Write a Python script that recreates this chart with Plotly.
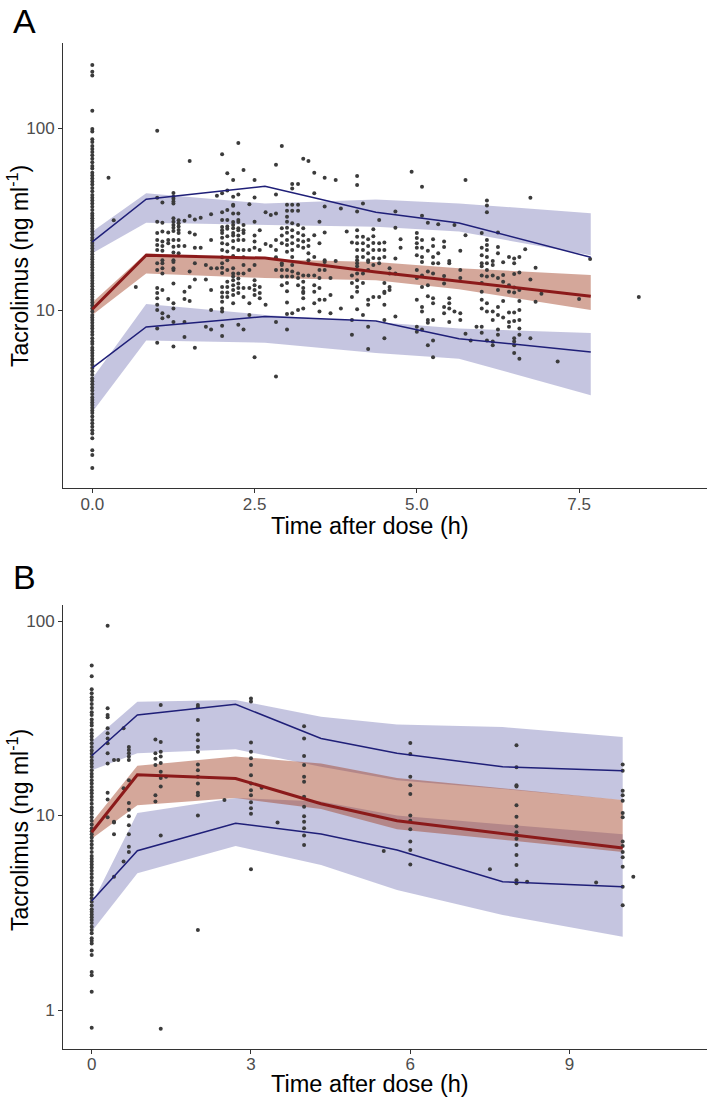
import plotly.graph_objects as go

FONT = "Liberation Sans, Arial, sans-serif"
W, H = 709, 1097

# ---------------- Panel A : observed data (time h, concentrations ng/ml) ----------------
a_obs = [
    (0.0, [223, 205, 195, 125, 99, 96, 87, 84, 80, 77, 74, 71, 68, 65, 62, 60, 57, 55, 53, 51, 49, 47,
           45, 43, 41.5, 40, 38.5, 37, 35.5, 34, 33, 32, 31, 30, 29, 28, 27, 26, 25, 24.2, 23.4, 22.6,
           21.8, 21, 20.3, 19.6, 19, 18.4, 17.8, 17.2, 16.6, 16, 15.5, 15, 14.5, 14, 13.5, 13, 12.6,
           12.2, 11.8, 11.4, 11, 10.6, 10.2, 9.8, 9.4, 9.1, 8.8, 8.5, 8.2, 7.9, 7.6, 7.3, 7.0, 6.7,
           6.5, 6.2, 6.0, 5.8, 5.6, 5.4, 5.2, 5.0, 4.8, 4.6, 4.4, 4.2, 4.05, 3.9, 3.75, 3.6, 3.45,
           3.3, 3.2, 3.1, 3.0, 2.9, 2.8, 2.71, 2.59, 2.48, 2.38, 2.28, 2.18, 2.09, 1.97, 1.69, 1.59, 1.35]),
    (0.25, [53.5]),
    (0.33, [31.2]),
    (0.67, [13.4]),
    (1.0, [97, 41.5, 30.6, 26.5, 24.3, 22.8, 21.4, 18.1, 16.6, 13.2, 12.4, 11.6, 10.7, 10, 7.9, 6.6]),
    (1.08, [39, 30.2, 27, 23.8, 22.5, 21.2, 18.8, 18.1, 17, 15.9, 12.9, 9.6, 9.0]),
    (1.17, [26.7, 24.3, 23.3, 11.5, 9.2]),
    (1.25, [44, 42, 41, 39.5, 38.5, 32.0, 30.6, 29.4, 28.4, 27.2, 24.3, 22.3, 20.7, 18.8, 17, 18.4,
            16.6, 14, 10.9, 10.2, 8.6, 6.3]),
    (1.33, [31.2, 30.0, 28.8, 27.6, 26.5, 24.3, 22.5, 20.5]),
    (1.42, [31, 22.5, 12.6, 11.5, 8.6, 7.1]),
    (1.5, [66, 32.9, 26.7, 16.3, 13.4, 11.2]),
    (1.58, [31.5, 26, 22.0, 18.1, 14.7, 6.2]),
    (1.67, [32.2, 22]),
    (1.75, [17.7, 14.7, 8.1]),
    (1.83, [33.7, 24.3, 17, 12.9, 10, 7.8]),
    (1.92, [42.6, 17]),
    (2.0, [72, 43.9, 34.5, 31.3, 28.6, 26.5, 27.5, 25, 23.3, 21.4, 19.5, 18.1, 17.1, 16, 13.4, 12.5,
           11.8, 11.1, 10.2, 9.8, 8.2, 7.2]),
    (2.08, [56.5, 45.4, 35.5, 31.3, 28.8, 28, 25.5, 23, 21, 18.8, 16.6, 14.3, 13.4, 12.5, 11.8]),
    (2.17, [52, 42, 37.5, 38, 34, 30.5, 28.2, 25.7, 29.4, 26.5, 24, 22, 19.8, 17, 15.9, 15.3, 14.6,
            13.7, 12.9, 12.1, 10.9]),
    (2.25, [83, 43.2, 34, 30.5, 28.2, 25.7, 31.3, 27.5, 24.3, 21.4, 15.9, 14.9, 14, 13.2, 12.4, 8.3]),
    (2.33, [59, 29.4, 26.5, 27.5, 24.3, 21.4, 19.5, 17.7, 15.9, 13.2, 11.8, 7.8]),
    (2.42, [38.2, 21.4, 16.6, 13.2, 10.9, 9.4]),
    (2.5, [52, 41.6, 30.6, 25.7, 23.8, 22, 17.7, 14.6, 13.7, 12.9, 12.1, 5.5]),
    (2.58, [27.5, 21.4, 13.4, 12.4, 11.6]),
    (2.67, [34.5, 23.1, 10.7]),
    (2.75, [33.3, 22.5]),
    (2.83, [63, 43.2, 34, 24.3, 21.4, 19.5, 16.6, 8.6, 4.3]),
    (2.92, [80, 28.2, 25.7, 23.3, 17.7, 18.1, 16.6, 15.3, 13.7]),
    (3.0, [37.9, 35.2, 32.6, 30.6, 28.4, 26.6, 24.3, 22.8, 20.9, 16.6, 15.3, 14.1, 12.7, 11.0, 9.5, 7.8]),
    (3.08, [49.3, 46.7, 37.9, 35.2, 30, 27.5, 25.3, 23.3, 21.4, 19.6, 17.7, 16.3, 15.3, 9.6]),
    (3.17, [49.3, 37.9, 35.2, 29.4, 26.5, 24.3, 22.5, 15.9, 15, 13.7, 10]),
    (3.25, [68, 28.2, 25.8, 23.8, 22, 15.5, 14.3, 13.2, 12.4, 12.6, 11.6, 10.2]),
    (3.33, [66, 24.3, 22.5, 20.5, 18.8, 15.5]),
    (3.42, [57, 43.9, 25.8, 19.6, 15.5, 13.7, 12.6, 10.9]),
    (3.5, [30.6, 23.3, 16.6, 15, 13.2, 11.4, 9.8]),
    (3.58, [53.5, 37.1, 26.7, 18.8, 18.4, 16.6, 11.4]),
    (3.67, [15, 12.1, 9.6]),
    (3.75, [52, 18.6]),
    (3.83, [36.2, 10.2]),
    (3.92, [27]),
    (4.0, [23.5, 15.5, 14.1, 11.8, 8.8, 7.3]),
    (4.08, [54.6, 48.8, 34.8, 27.5, 25.3, 23.3, 21.4, 19.6, 18.1, 18.8, 17.4, 15.9, 14.6, 13.4, 12.6, 10.1]),
    (4.17, [38.6, 25.3, 23.3, 21.4, 19.6, 15.9, 14.1, 9.4]),
    (4.25, [24.5, 22.5, 20.5, 18.8, 18.4, 16.6, 11.4, 10.7, 8.1, 6.1]),
    (4.33, [27.8, 25.5, 23.4, 21.4, 19.3, 17.7, 11.8]),
    (4.42, [31.3, 23.3, 21.4, 19.2, 18.1, 11.8]),
    (4.5, [23.5, 21.4, 19.6, 14.1, 12.6, 12.4, 10.7, 8.8, 7]),
    (4.58, [17, 15.9, 13.4, 12.9]),
    (4.67, [34.8, 28.4, 19.2, 15.9, 9.2]),
    (4.75, [24.5, 22]),
    (4.92, [57.6]),
    (5.0, [26.5, 24.9, 23.3, 22, 20, 16.6, 15, 11.4, 8.1, 7.6]),
    (5.08, [47.7, 33, 24.3, 22, 19.6, 18.4, 15.5, 13.4, 10.4, 9.8, 7.8]),
    (5.17, [30.2, 21.2, 16.3, 13.7, 11.9, 8.8, 8.5, 6.4]),
    (5.25, [24.5, 22.5, 19.6, 18.1, 15.9, 11.6, 10.9, 8.8, 6.8, 5.5]),
    (5.33, [29.6, 20.5, 18.1]),
    (5.42, [23.8, 22.2, 15.4, 14, 10.4, 9.6]),
    (5.5, [18.6, 18.1, 11.6, 10.9, 10.2, 8.6]),
    (5.58, [29.4, 9.8]),
    (5.67, [21.2, 16.6, 15, 9.6, 8.8]),
    (5.75, [52, 25.8, 7.4]),
    (5.83, [6.8]),
    (5.92, [8.1]),
    (6.0, [26.5, 22, 20, 18.1, 17.4, 15.5, 14.1, 12.6, 11.4, 10.2, 8.1, 7.5]),
    (6.08, [40, 37.6, 34.5, 24.3, 22.8, 21.4, 19.6, 18.1, 16.6, 15.3, 10.9, 9.8, 6.8]),
    (6.17, [18.6, 17.7, 15.5, 9.8, 8.8, 6.7, 6.4]),
    (6.25, [26.7, 22.2, 20.5, 15, 12.9, 10.4, 9.4, 7.8, 7.3]),
    (6.33, [18.3, 15.6, 14.3, 11.2, 9.1]),
    (6.42, [19.6, 13.7, 12.6, 9.7, 8.6, 8.1]),
    (6.5, [19.2, 18.1, 15.8, 13.3, 12.5, 9.7, 8.7, 7.0, 6.7, 6.4, 5.8]),
    (6.58, [19.6, 16.1, 12.9, 11.2, 10, 8.8, 7.9, 7.3, 5.4]),
    (6.67, [21.6]),
    (6.75, [41.5, 14.7, 7.0]),
    (6.83, [17.1, 11.1]),
    (6.92, [12.3]),
    (7.17, [5.2]),
    (7.5, [11.5]),
    (7.67, [19.1]),
    (8.42, [11.8]),
]

# Panel A : VPC percentiles per bin
a_bin_t = [0, 0.83, 2.66, 4.37, 5.65, 7.68]
a_p95_obs = [23.7, 40.7, 48.0, 34.5, 30.1, 19.5]
a_p50_obs = [10.1, 20.0, 19.3, 16.2, 14.4, 11.9]
a_p05_obs = [4.8, 8.07, 9.2, 8.7, 6.95, 5.88]
a_p95_lo = [20.5, 30.2, 29.4, 28.7, 27.0, 20.0]
a_p95_hi = [27.0, 43.9, 38.6, 40.6, 38.6, 34.1]
a_p50_lo = [9.4, 15.9, 15.0, 14.6, 13.0, 10.0]
a_p50_hi = [11.0, 20.5, 19.0, 18.4, 17.0, 15.6]
a_p05_lo = [2.75, 6.8, 6.6, 5.8, 5.4, 3.4]
a_p05_hi = [4.2, 10.8, 9.4, 8.6, 7.9, 7.47]

# ---------------- Panel B : observed data ----------------
b_obs = [
    (0.0, [59, 52, 44.6, 42.5, 40.5, 39.3, 37.4, 35.7, 34, 32.9, 31.2, 30, 29, 27.5, 26.5, 25.5, 24.5,
           23.5, 22.5, 21.6, 20.8, 20, 19.2, 18.5, 17.8, 17.1, 16.4, 15.8, 15.2, 14.6, 14, 13.5, 13,
           12.5, 12, 11.5, 11, 10.6, 10.2, 9.8, 9.4, 9, 8.6, 8.3, 8, 7.7, 7.4, 7.1, 6.8, 6.5, 6.2, 6,
           5.8, 5.6, 5.4, 5.2, 5, 4.8, 4.6, 4.4, 4.2, 4.05, 3.9, 3.75, 3.6, 3.45, 3.3, 3.2, 3.1, 3.0,
           2.9, 2.8, 2.68, 2.58, 2.48, 2.34, 2.27, 2.2, 2.02, 1.92, 1.57, 1.51, 1.24, 0.81]),
    (0.3, [94.6, 35.6, 32.9, 32, 28.1, 26.5, 24.9, 23.5, 20.9, 18.5, 13.1, 12.1, 9.8]),
    (0.42, [19.3, 9.3, 9.2, 8.0, 4.85]),
    (0.5, [19.3]),
    (0.6, [28.1, 13.8, 5.8]),
    (0.7, [22.5, 21.7, 20.9, 20.1, 19.3, 15.2, 11.6, 10.7, 9.9, 8.9, 8.0, 6.9, 6.5]),
    (1.2, [24.6, 20.9, 19.6, 18.2, 12.7, 11.8]),
    (1.3, [37, 23.9, 21.3, 20.1, 18.6, 16.8, 15.6, 14.1, 7.9, 0.8]),
    (1.4, [15.8]),
    (2.0, [37, 36, 31, 26.1, 24.4, 22.5, 21.3, 18.3, 17.1, 15.8, 14.6, 13.1, 12.7, 10.0, 2.58]),
    (2.5, [12]),
    (3.0, [40, 38.6, 23.7, 21.3, 19.7, 18.2, 16.1, 14.6, 13.5, 12.7, 11.7, 10.9, 10.2, 5.3]),
    (3.2, [13.9]),
    (3.5, [9.2]),
    (4.0, [28.8, 24.9, 20.2, 18.2, 15.8, 14.9, 12.5, 11.1, 9.9, 9.3, 8.6, 7.9, 7.06]),
    (5.5, [6.57]),
    (6.0, [23.6, 20.7, 15.8, 14.3, 12.9, 10, 9.4, 8.5, 7.35, 6.65, 5.6]),
    (7.5, [5.3]),
    (8.0, [23, 17.7, 14.3, 14.1, 11.3, 9.85, 8.8, 8.2, 7.6, 7.06, 6.27, 5.57, 4.65, 4.48]),
    (8.2, [4.57]),
    (9.5, [4.52]),
    (10.0, [18.3, 17.0, 13.4, 12.7, 11.9, 10.3, 9.8, 7.35, 6.96, 6.5, 6.1, 5.45, 4.3, 3.46]),
    (10.2, [4.85]),
]

b_bin_t = [0, 0.86, 2.71, 4.32, 5.75, 7.74, 10.0]
b_p95_obs = [20.3, 32.9, 37.3, 24.9, 20.9, 17.8, 17.0]
b_p50_obs = [8.2, 16.2, 15.5, 11.5, 9.4, 8.1, 6.8]
b_p05_obs = [3.63, 6.59, 9.12, 8.03, 6.65, 4.57, 4.3]
b_p95_lo = [17.1, 20.9, 21.9, 17.8, 15.2, 13.7, 12.0]
b_p95_hi = [24.0, 38.5, 39.3, 32.2, 29.4, 28.5, 25.3]
b_p50_lo = [7.6, 11.3, 12.3, 10.8, 8.5, 7.5, 6.5]
b_p50_hi = [9.2, 18.0, 20.1, 18.5, 15.6, 13.8, 12.0]
b_p05_lo = [2.53, 5.05, 6.97, 5.56, 4.14, 3.08, 2.38]
b_p05_hi = [3.5, 10.3, 12.3, 11.8, 10.0, 9.0, 8.0]

BLUE_FILL = "rgba(40,40,140,0.27)"
RED_FILL = "rgba(160,60,30,0.45)"
BLUE = "#1f1f78"
RED = "#8b1a1a"
PT = "#3b3b3b"

fig = go.Figure()


def add_panel(xa, ya, bins, p05, p05lo, p05hi, p50, p50lo, p50hi, p95, p95lo, p95hi, obs):
    for lo, hi, col in [(p95lo, p95hi, BLUE_FILL), (p05lo, p05hi, BLUE_FILL), (p50lo, p50hi, RED_FILL)]:
        fig.add_trace(go.Scatter(x=bins + bins[::-1], y=hi + lo[::-1], fill="toself", fillcolor=col,
                                 mode="lines", line=dict(width=0, color=col), hoverinfo="skip",
                                 showlegend=False, xaxis=xa, yaxis=ya))
    xs = [t for t, cs in obs for _ in cs]
    ys = [c for t, cs in obs for c in cs]
    fig.add_trace(go.Scatter(x=xs, y=ys, mode="markers", marker=dict(size=4, color=PT),
                             showlegend=False, xaxis=xa, yaxis=ya))
    for line, col, w in [(p95, BLUE, 1.5), (p05, BLUE, 1.5), (p50, RED, 3)]:
        fig.add_trace(go.Scatter(x=bins, y=line, mode="lines", line=dict(color=col, width=w),
                                 showlegend=False, xaxis=xa, yaxis=ya))


add_panel("x", "y", a_bin_t, a_p05_obs, a_p05_lo, a_p05_hi, a_p50_obs, a_p50_lo, a_p50_hi,
          a_p95_obs, a_p95_lo, a_p95_hi, a_obs)
add_panel("x2", "y2", b_bin_t, b_p05_obs, b_p05_lo, b_p05_hi, b_p50_obs, b_p50_lo, b_p50_hi,
          b_p95_obs, b_p95_lo, b_p95_hi, b_obs)

common = dict(showline=True, linecolor="#333333", linewidth=1, ticks="outside", ticklen=4,
              tickcolor="#333333", tickwidth=1, showgrid=False, zeroline=False, automargin=False,
              tickfont=dict(family=FONT, size=17, color="#4d4d4d"))

xdom = [63 / W, 707 / W]
fig.update_layout(
    width=W, height=H, margin=dict(l=0, r=0, t=0, b=0, autoexpand=False),
    plot_bgcolor="white", paper_bgcolor="white", showlegend=False,
    xaxis=dict(domain=xdom, range=[-0.4515, 9.471], tickvals=[0, 2.5, 5, 7.5],
               ticktext=["0.0", "2.5", "5.0", "7.5"], anchor="y", ticklabelstandoff=-3, **common),
    yaxis=dict(type="log", domain=[1 - 488 / H, 1 - 43 / H], range=[0.0204, 2.4694],
               tickvals=[10, 100], ticktext=["10", "100"], anchor="x", **common),
    xaxis2=dict(domain=xdom, range=[-0.5405, 11.588], tickvals=[0, 3, 6, 9],
                ticktext=["0", "3", "6", "9"], anchor="y2", ticklabelstandoff=-4, **common),
    yaxis2=dict(type="log", domain=[1 - 1049 / H, 1 - 605 / H], range=[-0.2005, 2.0823],
                tickvals=[1, 10, 100], ticktext=["1", "10", "100"], anchor="x2", **common),
)

ann = []
for lab, ytop, ys in [("A", 0, 0), ("B", 560, 4)]:
    ann.append(dict(text=lab, x=11 / W, y=1 - ytop / H, xref="paper", yref="paper",
                    xanchor="left", yanchor="top", showarrow=False, yshift=ys,
                    font=dict(family=FONT, size=34, color="black")))
for yc in [266, 830]:
    ann.append(dict(text="Tacrolimus (ng ml<sup>-1</sup>)", x=18 / W, y=1 - yc / H, xref="paper",
                    yref="paper", xanchor="center", yanchor="middle", textangle=-90,
                    showarrow=False, font=dict(family=FONT, size=23, color="black")))
for yc in [526, 1084]:
    ann.append(dict(text="Time after dose (h)", x=370 / W, y=1 - yc / H, xref="paper", yref="paper",
                    xanchor="center", yanchor="middle", showarrow=False,
                    font=dict(family=FONT, size=23.5, color="black")))
fig.update_layout(annotations=ann)

fig.write_html("out.html", config={"displayModeBar": False},
               post_script="document.body.style.margin='0px';document.body.style.padding='0px';")
